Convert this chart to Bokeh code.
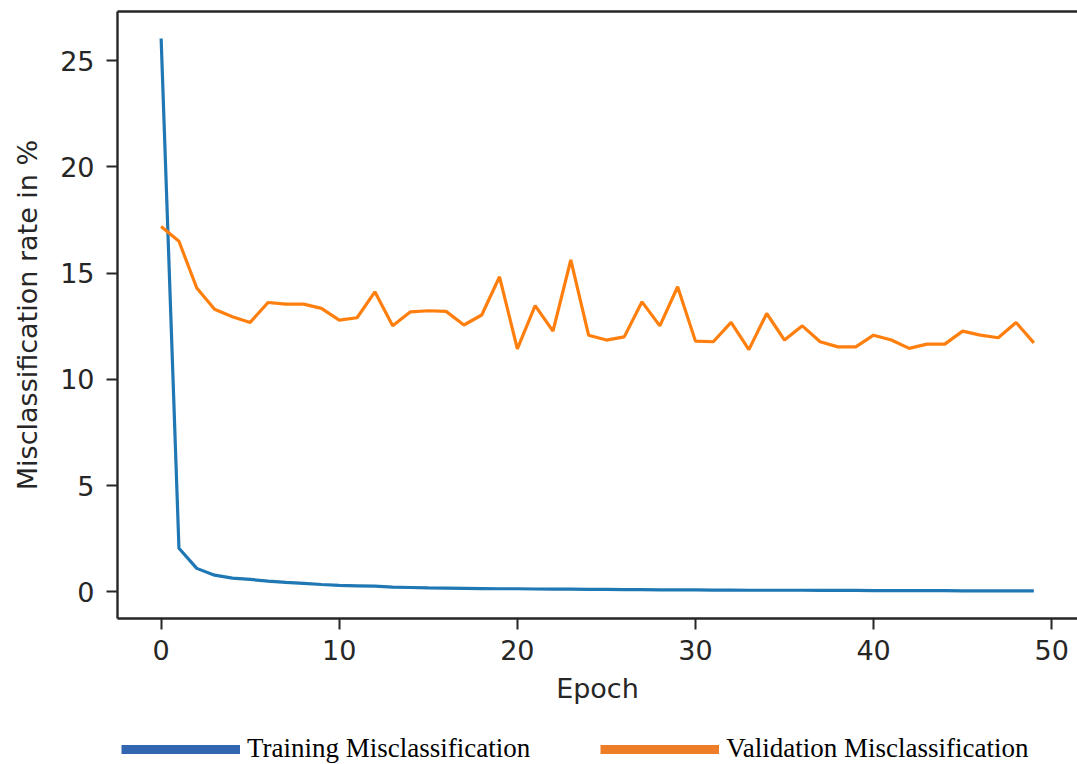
from bokeh.plotting import figure
from bokeh.layouts import column
from bokeh.models import (Range1d, FixedTicker, Legend, LegendItem, ColumnDataSource,
                          LinearAxis)
from bokeh.embed import file_html
from bokeh.resources import INLINE

# Misclassification rate (%) per training epoch
epochs = list(range(50))
train_miscls = [26.05, 2.05, 1.1, 0.78, 0.64, 0.58, 0.5, 0.44, 0.39, 0.34,
                0.3, 0.28, 0.26, 0.22, 0.2, 0.18, 0.17, 0.16, 0.15, 0.14,
                0.14, 0.13, 0.12, 0.12, 0.11, 0.11, 0.1, 0.1, 0.09, 0.09,
                0.09, 0.08, 0.08, 0.07, 0.07, 0.07, 0.07, 0.06, 0.06, 0.06,
                0.05, 0.05, 0.05, 0.05, 0.05, 0.04, 0.04, 0.04, 0.04, 0.04]
valid_miscls = [17.2, 16.5, 14.3, 13.3, 12.95, 12.68, 13.62, 13.54, 13.54, 13.34,
                12.79, 12.9, 14.12, 12.52, 13.18, 13.23, 13.2, 12.56, 13.03, 14.83,
                11.43, 13.47, 12.27, 15.62, 12.08, 11.85, 12.0, 13.65, 12.52, 14.36,
                11.8, 11.77, 12.68, 11.4, 13.1, 11.85, 12.52, 11.77, 11.53, 11.53,
                12.08, 11.85, 11.46, 11.66, 11.66, 12.27, 12.08, 11.96, 12.68, 11.72]
x_ticks = [0, 10, 20, 30, 40, 50]
y_ticks = [0, 5, 10, 15, 20, 25]
legend_labels = ["Training Misclassification", "Validation Misclassification"]

AX = "#262626"
FONT = "DejaVu Sans"

p = figure(width=1077, height=706, output_backend="svg", toolbar_location=None,
           x_range=Range1d(-2.45, 51.45), y_range=Range1d(-1.26, 27.32),
           min_border_left=117, min_border_right=0, min_border_top=11,
           min_border_bottom=88)
p.outline_line_color = None
p.grid.visible = False
p.background_fill_color = "white"
p.border_fill_color = "white"

src = ColumnDataSource(dict(epoch=epochs, train=train_miscls, valid=valid_miscls))
p.line("epoch", "train", source=src, line_color="#1f77b4", line_width=3.2)
p.line("epoch", "valid", source=src, line_color="#ff7f0e", line_width=3.2)

for ax, ticks in ((p.xaxis[0], x_ticks), (p.yaxis[0], y_ticks)):
    ax.ticker = FixedTicker(ticks=ticks)
    ax.minor_tick_line_color = None
    ax.major_tick_in = 0
    ax.major_tick_out = 11
    ax.major_tick_line_color = AX
    ax.major_tick_line_width = 2
    ax.axis_line_color = AX
    ax.axis_line_width = 2.4
    ax.major_label_text_font = FONT
    ax.major_label_text_font_size = "27px"
    ax.major_label_text_color = AX
    ax.axis_label_text_font = FONT
    ax.axis_label_text_font_size = "27px"
    ax.axis_label_text_font_style = "normal"
    ax.axis_label_text_color = AX

p.xaxis.axis_label = "Epoch"
p.yaxis.axis_label = "Misclassification rate in %"
p.xaxis.major_label_standoff = 10
p.yaxis.major_label_standoff = 12
p.xaxis.axis_label_standoff = 10
p.yaxis.axis_label_standoff = 14

# top spine
top = LinearAxis(ticker=FixedTicker(ticks=[]), axis_line_color=AX, axis_line_width=2.4,
                 major_tick_line_color=None, minor_tick_line_color=None,
                 major_label_text_font_size="0px")
p.add_layout(top, "above")

# legend strip underneath the chart
leg = figure(width=1077, height=58, output_backend="svg", toolbar_location=None,
             x_axis_location=None, y_axis_location=None,
             x_range=Range1d(0, 1), y_range=Range1d(0, 1),
             min_border=0)
leg.outline_line_color = None
leg.grid.visible = False
nan = float("nan")
r_tr = leg.line([nan], [nan], line_color="#3366b0", line_width=9)
r_va = leg.line([nan], [nan], line_color="#ee7d28", line_width=9)
legend = Legend(items=[LegendItem(label=legend_labels[0], renderers=[r_tr]),
                       LegendItem(label=legend_labels[1], renderers=[r_va])],
                orientation="horizontal", location=(4, 0),
                glyph_width=119, glyph_height=20, label_standoff=7, spacing=70,
                padding=0, margin=0, border_line_color=None, background_fill_alpha=0,
                label_text_font="Liberation Serif", label_text_font_size="27px",
                label_text_color="black")
leg.add_layout(legend)

open("out.html", "w").write(file_html(column(p, leg, spacing=0), INLINE))
